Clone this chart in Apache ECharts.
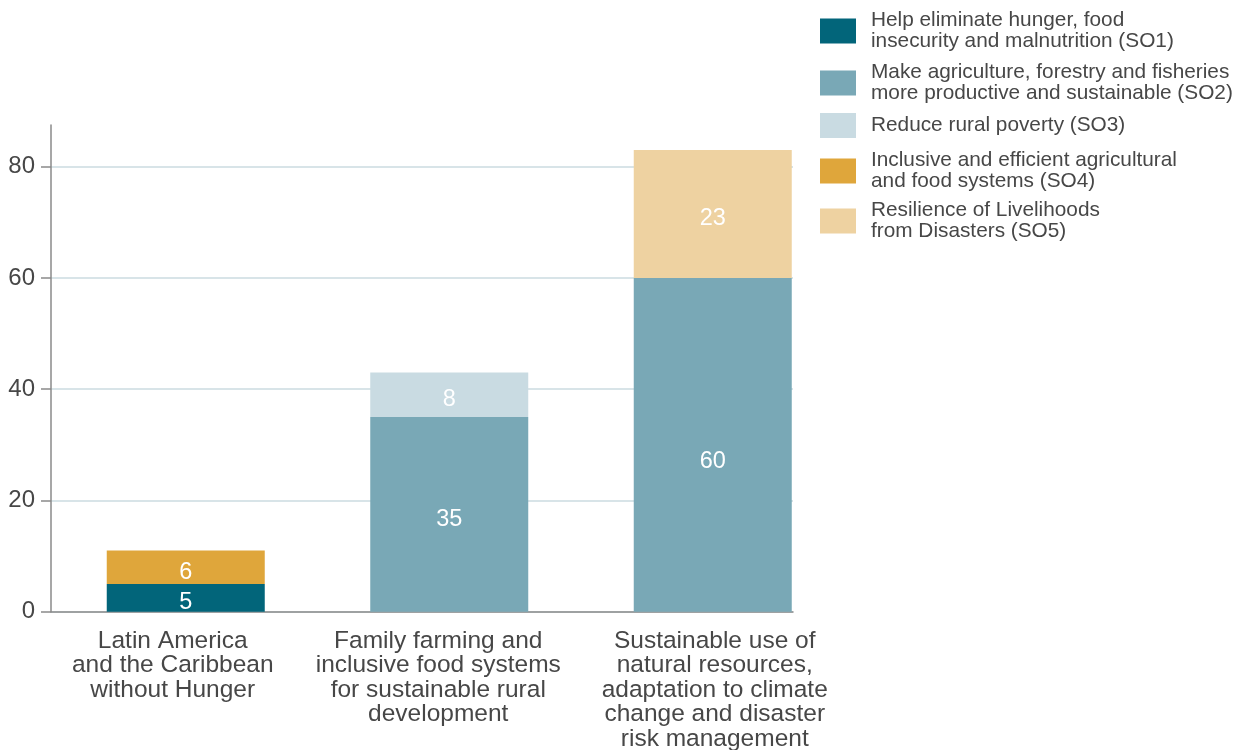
<!DOCTYPE html>
<html>
<head>
<meta charset="utf-8">
<script src="https://cdn.jsdelivr.net/npm/echarts@6/dist/echarts.min.js"></script>
<style>html,body{margin:0;padding:0;background:#fff}#c{width:1237px;height:750px}</style>
</head>
<body>
<div id="c"></div>
<script>
const categories = [
  'Latin America\nand the Caribbean\nwithout Hunger',
  'Family farming and\ninclusive food systems\nfor sustainable rural\ndevelopment',
  'Sustainable use of\nnatural resources,\nadaptation to climate\nchange and disaster\nrisk management'
];
const seriesNames = [
  'Help eliminate hunger, food\ninsecurity and malnutrition (SO1)',
  'Make agriculture, forestry and fisheries\nmore productive and sustainable (SO2)',
  'Reduce rural poverty (SO3)',
  'Inclusive and efficient agricultural\nand food systems (SO4)',
  'Resilience of Livelihoods\nfrom Disasters (SO5)'
];
const so1 = [5, '-', '-'];
const so2 = ['-', 35, 60];
const so3 = ['-', 8, '-'];
const so4 = [6, '-', '-'];
const so5 = ['-', '-', 23];
const yTicks = [0, 20, 40, 60, 80];

const colors = ['#02657a', '#79a8b6', '#c9dbe2', '#dfa63b', '#eed2a1'];
const FONT = '"Liberation Sans", Arial, Helvetica, sans-serif';
const TXT = '#474747';
const Y_MAX = 87.5;

const chart = echarts.init(document.getElementById('c'), null, {renderer: 'canvas'});

const seriesData = [so1, so2, so3, so4, so5];
const series = seriesData.map((d, i) => ({
  name: seriesNames[i],
  type: 'bar',
  stack: 'total',
  xAxisIndex: 1,
  yAxisIndex: 1,
  barWidth: 158,
  itemStyle: {color: colors[i]},
  label: {
    show: true,
    position: 'inside',
    color: '#ffffff',
    fontFamily: FONT,
    fontSize: 23.5,
    offset: [0, 5],
    formatter: p => p.value
  },
  data: d.map((v, j) => (i === 1 && j === 2) ? {value: v, label: {offset: [0, 17]}} : v)
}));

const legendTops = [10, 62, 113, 150, 200];
const legends = seriesNames.map((n, i) => ({
  data: [n],
  left: 820,
  top: legendTops[i],
  padding: 0,
  orient: 'vertical',
  icon: 'rect',
  itemWidth: 36,
  itemHeight: 25,
  selectedMode: false,
  textStyle: {
    color: TXT,
    fontFamily: FONT,
    fontSize: 20.8,
    lineHeight: 21,
    padding: [0, 0, 0, 10]
  }
}));

// horizontal nudges of the category labels (padding [top,right,bottom,left])
const labelPads = [[0, 26, 0, 0], [0, 22, 0, 0], [0, 0, 0, 4]];

chart.setOption({
  animation: false,
  backgroundColor: '#ffffff',
  legend: legends,
  grid: [
    {left: 51, right: 444, top: 125, bottom: 138.3, containLabel: false, outerBoundsMode: 'none'},
    {left: 54, right: 392.5, top: 125, bottom: 138.3, containLabel: false, outerBoundsMode: 'none'}
  ],
  xAxis: [
    {
      type: 'category', gridIndex: 0, data: [''],
      axisLine: {show: true, lineStyle: {color: '#8a8a8a', width: 1.5}},
      axisTick: {show: false}, axisLabel: {show: false}, splitLine: {show: false}
    },
    {
      type: 'category', gridIndex: 1,
      data: categories.map((c, i) => ({value: c, textStyle: {padding: labelPads[i]}})),
      axisLine: {show: false}, axisTick: {show: false}, splitLine: {show: false},
      axisLabel: {
        color: TXT, fontFamily: FONT, fontSize: 24.5, lineHeight: 24.5, margin: 17,
        interval: 0
      }
    }
  ],
  yAxis: [
    {
      type: 'value', gridIndex: 0, min: 0, max: Y_MAX, interval: 20,
      axisLine: {show: true, lineStyle: {color: '#8a8a8a', width: 1.5}},
      axisTick: {show: true, length: 10, customValues: yTicks, lineStyle: {color: '#8a8a8a', width: 1.5}},
      axisLabel: {color: TXT, fontFamily: FONT, fontSize: 24, margin: 16, customValues: yTicks},
      splitLine: {show: true, lineStyle: {color: ['#cbdbe1', '#cbdbe1', '#cbdbe1', '#cbdbe1', '#cbdbe1', 'rgba(0,0,0,0)'], width: 1.5}}
    },
    {
      type: 'value', gridIndex: 1, min: 0, max: Y_MAX, interval: 20, show: false,
      splitLine: {show: false}
    }
  ],
  series: series
});
</script>
</body>
</html>
